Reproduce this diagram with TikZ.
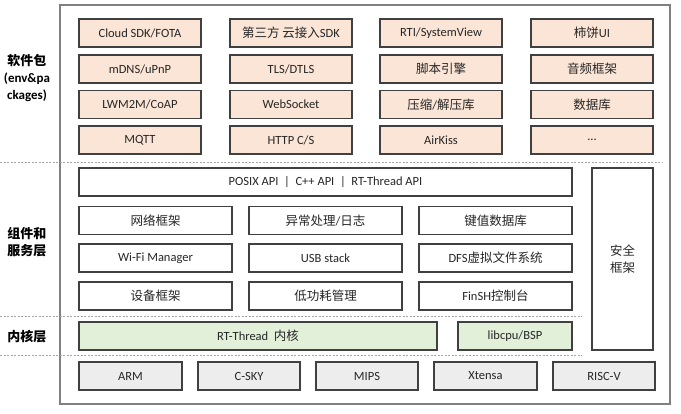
\documentclass[tikz,border=0pt]{standalone}
\usepackage{fontspec}
\setmainfont{Carlito}
\newfontfamily\cjk{Noto Sans CJK SC}
\usepackage{tikz}
\definecolor{peach}{HTML}{FBE5D6}
\definecolor{lgreen}{HTML}{E2F0D9}
\definecolor{lgray}{HTML}{EDEDED}
\definecolor{edge}{HTML}{404040}
\definecolor{frame}{HTML}{808080}
\tikzstyle{box}=[rectangle,draw=edge,line width=1.2pt,inner sep=0pt,align=center,minimum height=28pt,font=\fontsize{12.5}{15}\selectfont,text=black!85]
\tikzstyle{pkg}=[box,fill=peach,minimum width=122pt]
\tikzstyle{comp}=[box,fill=white,minimum width=153pt]
\tikzstyle{kern}=[box,fill=lgreen]
\tikzstyle{arch}=[box,fill=lgray,minimum width=102pt]
\tikzstyle{layer}=[align=center,font=\fontsize{13}{17}\selectfont\bfseries,inner sep=0pt]
\tikzstyle{sep}=[dashed,draw=gray!70,line width=0.6pt,dash pattern=on 2pt off 1.5pt]
\begin{document}
\begin{tikzpicture}[x=1pt,y=-1pt]
	\useasboundingbox (0,0) rectangle (681,414);
	% outer frame
	\draw [draw=frame,line width=1.5pt] (60,5) rectangle (670,404);
	% layer separators
	\coordinate (s1L) at (0,162);
	\coordinate (s1R) at (663,162);
	\coordinate (s2L) at (0,316);
	\coordinate (s2R) at (582,316);
	\coordinate (s3L) at (0,355);
	\coordinate (s3R) at (582,355);
	\draw [style=sep] (s1L) -- (s1R);
	\draw [style=sep] (s2L) -- (s2R);
	\draw [style=sep] (s3L) -- (s3R);
	% layer labels
	\node [style=layer] (Lpkg) at (27,78) {{\cjk 软件包}\\(env\&pa\\ckages)};
	\node [style=layer] (Lcomp) at (27,242) {\cjk 组件和\\\cjk 服务层};
	\node [style=layer] (Lkern) at (27,337) {\cjk 内核层};
	% packages
	\node [style=pkg] (cloud) at (140,33) {Cloud SDK/FOTA};
	\node [style=pkg] (third) at (291,33) {{\cjk 第三方 云接入}SDK};
	\node [style=pkg] (rti) at (441,33) {RTI/SystemView};
	\node [style=pkg] (ui) at (592,33) {{\cjk 柿饼}UI};
	\node [style=pkg] (mdns) at (140,69) {mDNS/uPnP};
	\node [style=pkg] (tls) at (291,69) {TLS/DTLS};
	\node [style=pkg] (script) at (441,69) {\cjk 脚本引擎};
	\node [style=pkg] (audio) at (592,69) {\cjk 音频框架};
	\node [style=pkg] (lwm) at (140,104.5) {LWM2M/CoAP};
	\node [style=pkg] (ws) at (291,104.5) {WebSocket};
	\node [style=pkg] (zip) at (441,104.5) {{\cjk 压缩}/{\cjk 解压库}};
	\node [style=pkg] (db) at (592,104.5) {\cjk 数据库};
	\node [style=pkg] (mqtt) at (140,140) {MQTT};
	\node [style=pkg] (http) at (291,140) {HTTP C/S};
	\node [style=pkg] (air) at (441,140) {AirKiss};
	\node [style=pkg] (more) at (592,140) {...};
	% components and services
	\node [style=comp,minimum width=493pt] (api) at (325.5,182) {POSIX API~~|~~C++ API~~|~~RT-Thread API};
	\node [style=comp,minimum width=61pt,minimum height=182pt] (sec) at (622.5,259) {\cjk 安全\\[2pt]\cjk 框架};
	\node [style=comp] (net) at (155.5,220.5) {\cjk 网络框架};
	\node [style=comp] (exc) at (325.5,220.5) {{\cjk 异常处理}/{\cjk 日志}};
	\node [style=comp] (kv) at (495.5,220.5) {\cjk 键值数据库};
	\node [style=comp] (wifi) at (155.5,258) {Wi-Fi Manager};
	\node [style=comp] (usb) at (325.5,258) {USB stack};
	\node [style=comp] (dfs) at (495.5,258) {DFS{\cjk 虚拟文件系统}};
	\node [style=comp] (dev) at (155.5,296) {\cjk 设备框架};
	\node [style=comp] (pm) at (325.5,296) {\cjk 低功耗管理};
	\node [style=comp] (finsh) at (495.5,296) {FinSH{\cjk 控制台}};
	% kernel
	\node [style=kern,minimum width=358pt] (rtt) at (258,336) {RT-Thread~~{\cjk 内核}};
	\node [style=kern,minimum width=114pt] (bsp) at (515,336) {libcpu/BSP};
	% architectures
	\node [style=arch,minimum width=103pt] (arm) at (130.5,376) {ARM};
	\node [style=arch] (csky) at (249,376) {C-SKY};
	\node [style=arch] (mips) at (367,376) {MIPS};
	\node [style=arch,minimum width=103pt] (xt) at (485.5,376) {Xtensa};
	\node [style=arch] (riscv) at (604,376) {RISC-V};
\end{tikzpicture}
\end{document}
